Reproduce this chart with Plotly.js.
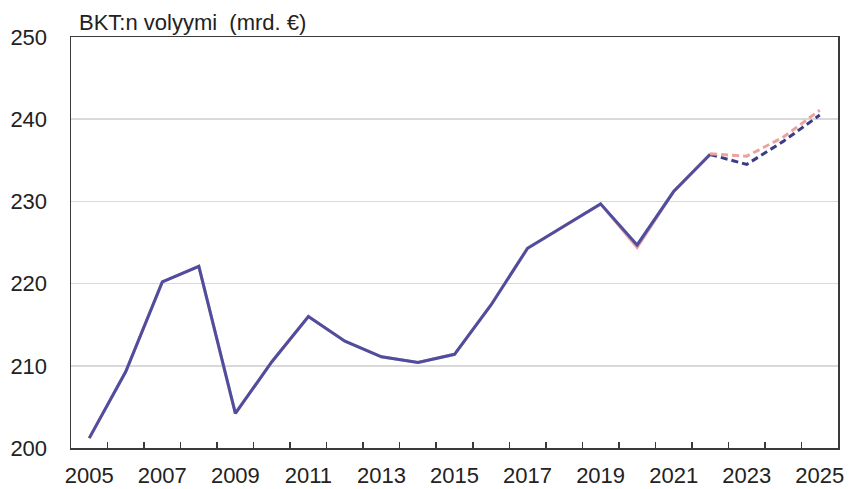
<!DOCTYPE html>
<html>
<head>
<meta charset="utf-8">
<script src="https://cdn.plot.ly/plotly-3.0.1.min.js"></script>
<style>
  html, body { margin: 0; padding: 0; background: #ffffff; }
  #chart { width: 849px; height: 489px; }
</style>
</head>
<body>
<div id="chart"></div>
<script>
// Data
const years = [2005, 2006, 2007, 2008, 2009, 2010, 2011, 2012, 2013, 2014, 2015, 2016, 2017, 2018, 2019, 2020, 2021, 2022];
const gdpHistory = [201.2, 209.3, 220.2, 222.1, 204.2, 210.5, 216.0, 213.0, 211.1, 210.4, 211.4, 217.4, 224.3, 227.0, 229.7, 224.7, 231.2, 235.7];
const gdpHistoryPrev = [201.2, 209.3, 220.2, 222.1, 204.2, 210.5, 216.0, 213.0, 211.1, 210.4, 211.4, 217.4, 224.3, 227.0, 229.7, 224.4, 231.2, 235.8];
const forecastYears = [2022, 2023, 2024, 2025];
const forecastNew = [235.7, 234.5, 237.3, 240.5];
const forecastPrev = [235.8, 235.5, 237.8, 241.1];
const xTickLabels = ['2005', '2007', '2009', '2011', '2013', '2015', '2017', '2019', '2021', '2023', '2025'];
const yTicks = [200, 210, 220, 230, 240, 250];
const chartTitle = 'BKT:n volyymi&nbsp;&nbsp;(mrd. €)';

const blue = '#4e4ea0';
const blueDark = '#3a3d85';
const pink = '#eba3a0';

const traces = [
  { x: years, y: gdpHistoryPrev, type: 'scatter', mode: 'lines',
    line: { color: pink, width: 3 }, hoverinfo: 'skip' },
  { x: years, y: gdpHistory, type: 'scatter', mode: 'lines',
    line: { color: blue, width: 3 }, hoverinfo: 'skip' },
  { x: forecastYears, y: forecastNew, type: 'scatter', mode: 'lines',
    line: { color: blueDark, width: 3, dash: '7px,4px' }, hoverinfo: 'skip' },
  { x: forecastYears, y: forecastPrev, type: 'scatter', mode: 'lines',
    line: { color: pink, width: 3, dash: '7px,4px' }, hoverinfo: 'skip' }
];

const minorVals = [];
for (let i = 0; i < years.length + 2; i++) {
  const b = years[0] + 0.5 + i;
  if (b < 2025.5) minorVals.push(b);
}

const layout = {
  width: 849, height: 489,
  margin: { l: 71, r: 11, t: 37, b: 41, pad: 0 },
  paper_bgcolor: '#ffffff', plot_bgcolor: '#ffffff',
  showlegend: false,
  font: { family: 'Liberation Sans, Arial, sans-serif', size: 22, color: '#222222' },
  xaxis: {
    type: 'linear',
    range: [2004.5, 2025.5],
    tickmode: 'array',
    tickvals: xTickLabels.map(Number),
    ticktext: xTickLabels,
    ticks: '',
    showgrid: false,
    zeroline: false,
    showline: true, linecolor: '#3a3a3a', linewidth: 1.5, mirror: true,
    ticklabelstandoff: 7,
    tickfont: { size: 22, color: '#222222' },
    minor: { tickvals: minorVals, ticks: 'inside', ticklen: 6, tickcolor: '#3a3a3a', tickwidth: 1.5, showgrid: false }
  },
  yaxis: {
    range: [200, 250],
    tickmode: 'array',
    tickvals: yTicks,
    ticktext: yTicks.map(String),
    ticks: '',
    showgrid: true, gridcolor: '#d9d9d9', gridwidth: 1.5,
    zeroline: false,
    showline: true, linecolor: '#3a3a3a', linewidth: 1.5, mirror: true,
    ticklabelstandoff: 18,
    tickfont: { size: 22, color: '#222222' }
  },
  annotations: [{
    text: chartTitle,
    xref: 'paper', yref: 'paper', x: 0, y: 1,
    xanchor: 'left', yanchor: 'bottom', xshift: 6, yshift: 0,
    showarrow: false,
    font: { size: 22, color: '#222222' }
  }]
};

Plotly.newPlot('chart', traces, layout, { staticPlot: true, displayModeBar: false });
</script>
</body>
</html>
